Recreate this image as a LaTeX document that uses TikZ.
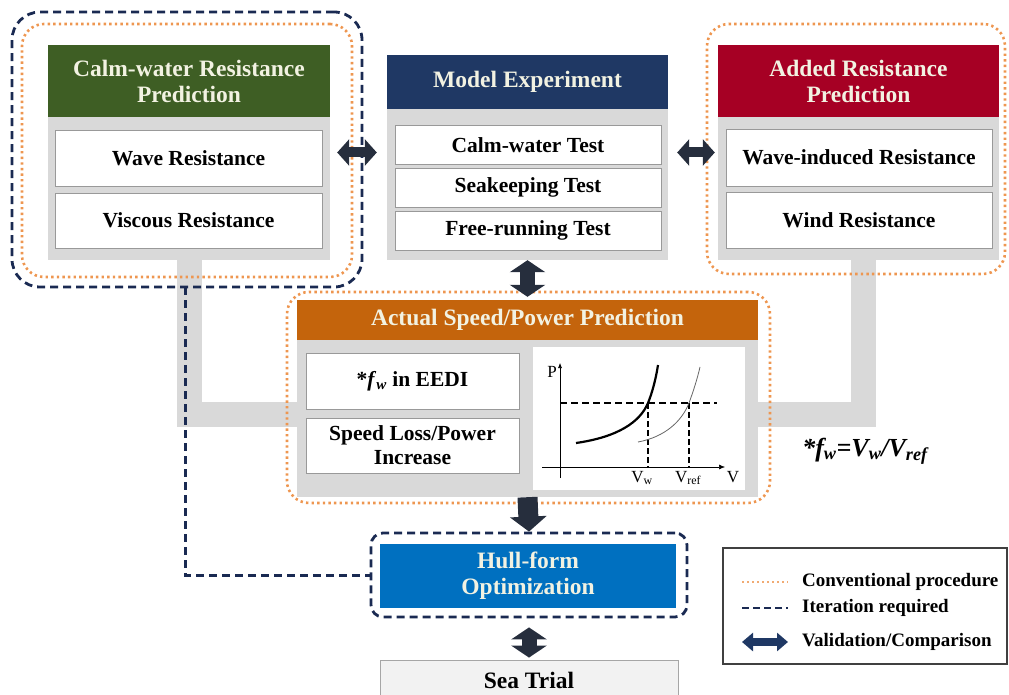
\documentclass[tikz,border=0pt]{standalone}
\usepackage{fontspec}
\setmainfont{Liberation Serif}
\usepackage{xcolor}
\usepackage{tikz}
\usetikzlibrary{arrows.meta,fit}
\definecolor{calmgreen}{RGB}{62,94,36}
\definecolor{expnavy}{RGB}{31,56,100}
\definecolor{addedred}{RGB}{166,0,36}
\definecolor{speedorange}{RGB}{196,100,12}
\definecolor{hullblue}{RGB}{0,112,192}
\definecolor{panelgray}{RGB}{217,217,217}
\definecolor{convdot}{RGB}{238,150,80}
\definecolor{iterdash}{RGB}{26,42,82}
\definecolor{valdark}{RGB}{38,46,61}
\definecolor{headtext}{RGB}{242,242,226}

\begin{document}
\begin{tikzpicture}[x=1pt, y=-1pt,
  panel/.style={fill=panelgray, inner sep=0},
  head/.style={inner sep=0, text=headtext, align=center,
               font=\fontsize{23.5}{26}\selectfont\bfseries},
  item/.style={draw=black!40, line width=0.8pt, fill=white, inner sep=0, align=center,
               font=\fontsize{21.5}{24}\selectfont\bfseries},
  band/.style={draw=panelgray, line width=25pt},
  conv/.style={draw=convdot, line width=2.6pt, dash pattern=on 2.4pt off 3.2pt,
               rounded corners=22pt, inner sep=0},
  iter/.style={draw=iterdash, line width=2.8pt, dash pattern=on 8pt off 5pt, inner sep=0},
  hval/.style={valdark, line width=10pt,
               {Triangle[width=26pt,length=12pt]}-{Triangle[width=26pt,length=12pt]}},
  vval/.style={valdark, line width=15pt,
               {Triangle[width=35pt,length=12pt]}-{Triangle[width=35pt,length=12pt]}},
  down/.style={valdark, line width=20pt, -{Triangle[width=36pt,length=15pt]}},
  lbl/.style={inner sep=0, font=\fontsize{17}{20}\selectfont},
  legtext/.style={anchor=west, inner sep=0, font=\fontsize{19}{22}\selectfont\bfseries},
]
\useasboundingbox (0,0) rectangle (1009,695);
\clip (0,0) rectangle (1009,695);

% ---- gray panels and the bands that join them
\node[panel, minimum width=282pt, minimum height=215pt] (cwp) at (189,152.5) {};
\node[panel, minimum width=281pt, minimum height=205pt] (mep) at (527.5,157.5) {};
\node[panel, minimum width=281pt, minimum height=215pt] (arp) at (858.5,152.5) {};
\coordinate (bandmid) at (527.5,414);
\draw[band] (cwp.south) |- (bandmid);
\draw[band] ([xshift=5pt]arp.south) |- (bandmid);
\node[panel, minimum width=461pt, minimum height=197pt] (spp) at (527.5,398.5) {};

% ---- headers
\node[head, fill=calmgreen, minimum width=282pt, minimum height=72pt] (cwh) at (189,81)
  {Calm-water Resistance\\Prediction};
\node[head, fill=expnavy, minimum width=281pt, minimum height=54pt] (meh) at (527.5,82)
  {Model Experiment};
\node[head, fill=addedred, minimum width=281pt, minimum height=72pt] (arh) at (858.5,81)
  {Added Resistance\\Prediction};
\node[head, fill=speedorange, minimum width=461pt, minimum height=40pt] (sph) at (527.5,320)
  {Actual Speed/Power Prediction};

% ---- items
\node[item, minimum width=267pt, minimum height=56pt] (cw1) at (188.5,158) {Wave Resistance};
\node[item, minimum width=267pt, minimum height=55pt] (cw2) at (188.5,220.5) {Viscous Resistance};
\foreach \t/\yy [count=\k] in {Calm-water Test/145, Seakeeping Test/187.5, Free-running Test/230.5} {
  \node[item, minimum width=266pt, minimum height=39pt] (me\k) at (528,\yy) {\t};
}
\node[item, minimum width=266pt, minimum height=57pt] (ar1) at (859,157.5) {Wave-induced Resistance};
\node[item, minimum width=266pt, minimum height=56pt] (ar2) at (859,220) {Wind Resistance};
\node[item, minimum width=213pt, minimum height=56pt] (sp1) at (412.5,381)
  {*\textit{f}\textsubscript{\textit{w}} in EEDI};
\node[item, minimum width=213pt, minimum height=55pt] (sp2) at (412.5,445.5)
  {Speed Loss/Power\\Increase};

% ---- P-V chart
\node[fill=white, inner sep=0, minimum width=212pt, minimum height=143pt] (chart) at (639,418.5) {};
\draw[line width=0.6pt, -{Latex[length=5pt,width=4pt]}] (560,478) -- (560,363);
\draw[line width=0.6pt, -{Latex[length=6pt,width=5pt]}] (542,467) -- (725,467);
\draw[line width=2pt, dash pattern=on 7pt off 4pt] (560,403) -- (717,403);
\draw[line width=2pt, dash pattern=on 6pt off 3pt] (648,403) -- (648,467);
\draw[line width=2pt, dash pattern=on 6pt off 3pt] (689,403) -- (689,467);
\draw[line width=2.2pt] (576,443) .. controls (618,437) and (640,422) .. (648,403)
  .. controls (652.5,392) and (656,378) .. (658,365);
\draw[line width=0.8pt, black!60] (638,442) .. controls (665,437) and (682,421) .. (689,403)
  .. controls (693,392) and (697,380) .. (700,367);
\node[lbl] (lp) at (552,372) {P};
\node[lbl] (lv) at (733,477) {V};
\node[lbl] (lvw) at (642,478) {V\textsubscript{w}};
\node[lbl] (lvr) at (688,478) {V\textsubscript{ref}};

% ---- hull form and sea trial
\node[head, fill=hullblue, minimum width=296pt, minimum height=64pt] (hull) at (528,576)
  {Hull-form\\Optimization};
\node[draw=black!35, line width=0.8pt, fill=black!5, minimum width=298pt, minimum height=40pt,
      inner sep=0, font=\fontsize{23.5}{26}\selectfont\bfseries] (sea) at (529,680) {Sea Trial};

% ---- procedure outlines
\node[iter, rounded corners=28pt, fit={(12,12) (362,287)}] (itl) {};
\node[conv, fit={(22,24) (352,277)}] (cvl) {};
\node[conv, fit={(707,24) (1005,274)}] (cvr) {};
\node[conv, fit={(287,292) (770,503)}] (cvs) {};
\node[iter, rounded corners=12pt, fit={(371,533) (687,617)}] (hlo) {};
\coordinate (iterfrom) at (185,287);
\draw[iter, line width=3pt] (iterfrom) |- (hlo.west);

% ---- validation arrows
\draw[hval] ([xshift=7pt]cwp.east) -- ([xshift=-10pt]mep.west |- cwp.east);
\draw[hval] ([xshift=9pt]mep.east |- arp.west) -- ([xshift=-3pt]arp.west);
\draw[vval] (mep.south) -- ([yshift=3pt]sph.north);
\draw[down] (spp.south) -- (hlo.north);
\draw[vval] ([yshift=-9pt]hlo.south) -- ([yshift=2pt]sea.north);

\node[inner sep=0, font=\fontsize{26}{30}\selectfont\bfseries\itshape] (fwdef) at (865,451)
  {*f\textsubscript{w}=V\textsubscript{w}/V\textsubscript{ref}};

% ---- legend
\node[draw=black!75, line width=1.5pt, minimum width=284pt, minimum height=116pt] (leg) at (865,606) {};
\node[legtext] (lg1) at (802,582) {Conventional procedure};
\node[legtext] (lg2) at (802,608) {Iteration required};
\node[legtext] (lg3) at (802,642) {Validation/Comparison};
\draw[convdot!80, line width=2pt, dash pattern=on 2pt off 3pt] ([xshift=-60pt]lg1.west) -- ([xshift=-14pt]lg1.west);
\draw[iterdash, line width=2.5pt, dash pattern=on 7pt off 4pt] ([xshift=-60pt]lg2.west) -- ([xshift=-14pt]lg2.west);
\draw[expnavy, line width=8pt, {Triangle[width=18pt,length=11pt]}-{Triangle[width=18pt,length=11pt]}]
  ([xshift=-60pt]lg3.west) -- ([xshift=-14pt]lg3.west);
\end{tikzpicture}
\end{document}
